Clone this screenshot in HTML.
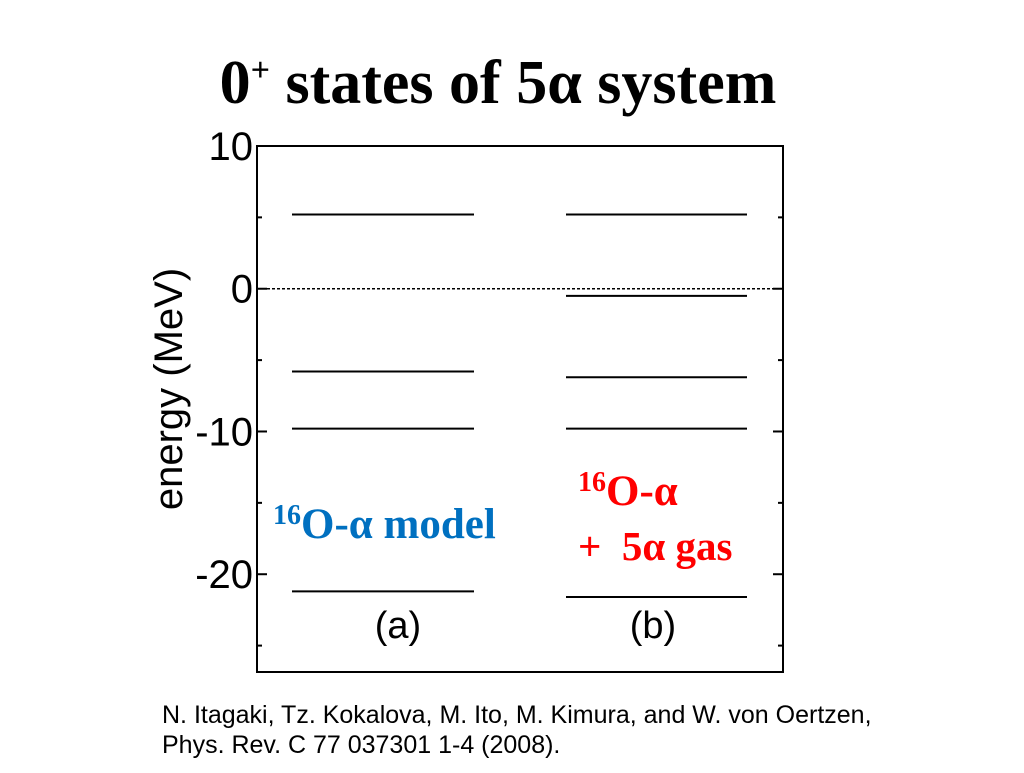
<!DOCTYPE html>
<html><head><meta charset="utf-8"><style>
body{margin:0;background:#fff;width:1024px;height:768px;overflow:hidden;font-family:"Liberation Sans",sans-serif;}
</style></head><body>
<svg width="1024" height="768">
<text x="498" y="103" text-anchor="middle" font-family="Liberation Serif" font-weight="bold" font-size="62">0<tspan font-size="34" dy="-22">+</tspan><tspan dy="22"> states of 5α system</tspan></text>
<g id="plot"></g>
<text transform="translate(182,389) rotate(-90)" text-anchor="middle" font-size="40">energy (MeV)</text>
<text x="398" y="638" text-anchor="middle" font-size="38">(a)</text>
<text x="653" y="638" text-anchor="middle" font-size="38">(b)</text>
<text x="273" y="538" font-family="Liberation Serif" font-weight="bold" font-size="43" fill="#0070c0"><tspan font-size="28" dy="-14">16</tspan><tspan dy="14">O-α model</tspan></text>
<text x="578" y="505" font-family="Liberation Serif" font-weight="bold" font-size="43" fill="#ff0000"><tspan font-size="28" dy="-14">16</tspan><tspan dy="14">O-α</tspan></text>
<text x="578" y="560" font-family="Liberation Serif" font-weight="bold" font-size="41" fill="#ff0000" xml:space="preserve" style="white-space:pre">+  5α gas</text>
<text x="162" y="723" font-size="25">N. Itagaki, Tz. Kokalova, M. Ito, M. Kimura, and W. von Oertzen,</text>
<text x="162" y="753" font-size="25">Phys. Rev. C 77 037301 1-4 (2008).</text>
</svg>
<script>
const levelsA=[5.2,-5.8,-9.8,-21.2];
const levelsB=[5.2,-0.5,-6.2,-9.8,-21.6];
const majorTicks=[10,0,-10,-20];
const minorTicks=[5,-5,-15,-25];
const NS='http://www.w3.org/2000/svg';
const g=document.getElementById('plot');
const L=257,R=783,T=146,B=672,yMax=10,yMin=-26.85;
const y=v=>T+(yMax-v)/(yMax-yMin)*(B-T);
function mk(tag,at){const e=document.createElementNS(NS,tag);for(const k in at)e.setAttribute(k,at[k]);g.appendChild(e);return e;}
const frame=mk('rect',{x:L,y:T,width:R-L,height:B-T,fill:'none',stroke:'#000','stroke-width':2});


const zl=mk('line',{x1:L,x2:R,y1:y(0),y2:y(0),stroke:'#000','stroke-width':1.5,'stroke-dasharray':'3,2'});


majorTicks.forEach(v=>{
 mk('line',{x1:L,x2:L+10,y1:y(v),y2:y(v),stroke:'#000','stroke-width':2});
 mk('line',{x1:R-10,x2:R,y1:y(v),y2:y(v),stroke:'#000','stroke-width':2});
 const t=mk('text',{x:L-4,y:y(v)+14,'text-anchor':'end','font-size':40});
 t.textContent=v;
 
 
});
minorTicks.forEach(v=>{
 mk('line',{x1:L,x2:L+5,y1:y(v),y2:y(v),stroke:'#000','stroke-width':2});
 mk('line',{x1:R-5,x2:R,y1:y(v),y2:y(v),stroke:'#000','stroke-width':2});
});
levelsA.forEach(v=>{
 const l=mk('line',{x1:292,x2:474,y1:y(v),y2:y(v),stroke:'#000','stroke-width':2});
 
 
});
levelsB.forEach(v=>{
 const l=mk('line',{x1:566,x2:747,y1:y(v),y2:y(v),stroke:'#000','stroke-width':2});
 
 
});
</script>
</body></html>
